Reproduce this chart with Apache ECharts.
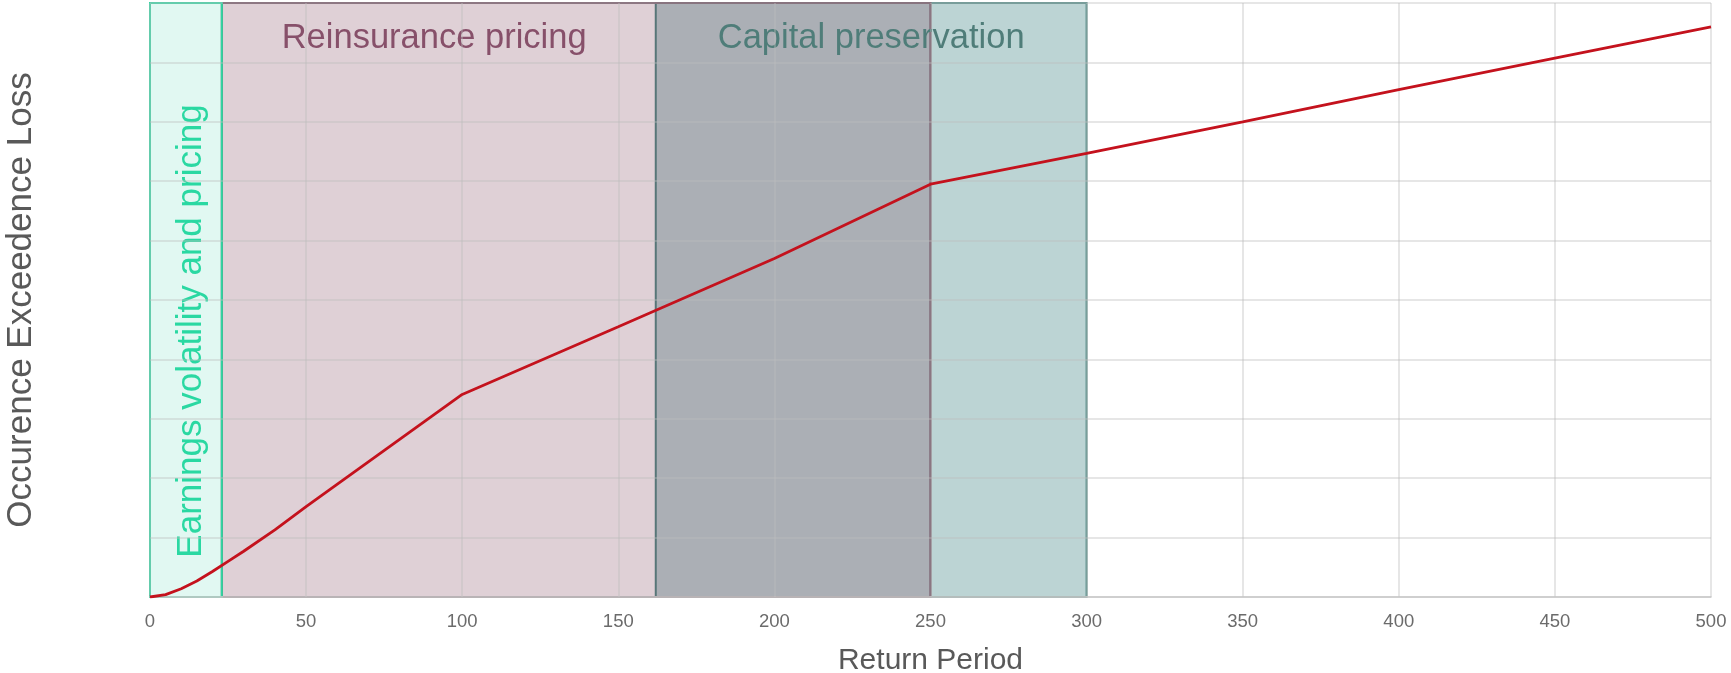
<!DOCTYPE html>
<html>
<head>
<meta charset="utf-8">
<script src="https://cdn.jsdelivr.net/npm/echarts@6/dist/echarts.min.js"></script>
<style>
  html, body { margin: 0; padding: 0; background: #ffffff; }
  #chart { width: 1731px; height: 673px; }
</style>
</head>
<body>
<div id="chart"></div>
<script>
// Occurrence exceedance loss curve by return period (years)
const returnPeriods = [0, 5, 10, 15, 20, 25, 30, 40, 50, 100, 150, 200, 250, 300, 350, 400, 450, 500];
const lossValues    = [0, 0.04, 0.14, 0.27, 0.43, 0.60, 0.77, 1.13, 1.52, 3.41, 4.55, 5.70, 6.95, 7.47, 8.00, 8.54, 9.07, 9.60];

// Risk-management bands along the return-period axis
const bandNames  = ['Earnings volatility and pricing', 'Reinsurance pricing', 'Capital preservation'];
const bandStarts = [0, 23, 162];
const bandEnds   = [23, 250, 300];

// Appearance of each band (kept apart from the values above)
const bandStyles = {
  'Earnings volatility and pricing': {
    fill: 'rgba(40, 205, 160, 0.14)', border: '#2fd6a2', text: '#2ad8a2',
    label: { position: 'inside', rotate: 90, offset: [-31, 5], fontSize: 35 }
  },
  'Reinsurance pricing': {
    fill: 'rgba(117, 52, 78, 0.23)', border: 'rgba(105, 70, 88, 0.95)', text: '#87506a',
    label: { position: 'insideTop', distance: 19, offset: [-142, 0], fontSize: 34.5 }
  },
  'Capital preservation': {
    fill: 'rgba(32, 112, 112, 0.30)', border: '#4f8a85', text: '#4f7d79',
    label: { position: 'insideTop', distance: 19, offset: [0, 0], fontSize: 34.5 }
  }
};

// Teal band first, mauve band over it, then the narrow mint band
const drawOrder = ['Capital preservation', 'Reinsurance pricing', 'Earnings volatility and pricing'];

const areaData = drawOrder.map(function (name) {
  const i = bandNames.indexOf(name);
  const st = bandStyles[name];
  return [
    {
      name: name,
      xAxis: bandStarts[i],
      itemStyle: { color: st.fill, borderColor: st.border, borderWidth: 2 },
      label: Object.assign({
        show: true,
        formatter: name,
        color: st.text,
        fontFamily: '"Liberation Sans", Arial, sans-serif'
      }, st.label)
    },
    { xAxis: bandEnds[i] }
  ];
});

const gridLine = { show: true, lineStyle: { color: 'rgba(190, 190, 190, 0.5)', width: 1.5 } };

const chart = echarts.init(document.getElementById('chart'), null, { renderer: 'canvas' });

chart.setOption({
  animation: false,
  backgroundColor: '#ffffff',
  grid: { left: 150, right: 20, top: 3, bottom: 76, containLabel: false, outerBoundsMode: 'none' },
  xAxis: {
    type: 'value',
    min: 0,
    max: 500,
    interval: 50,
    z: 2,
    name: 'Return Period',
    nameLocation: 'middle',
    nameGap: 49,
    nameTextStyle: { color: '#595959', fontSize: 30, fontFamily: '"Liberation Sans", Arial, sans-serif' },
    axisLine: { show: true, lineStyle: { color: '#c8c8c8', width: 1.5 } },
    axisTick: { show: false },
    axisLabel: { color: '#6b6b6b', fontSize: 18.5, margin: 15, fontFamily: '"Liberation Sans", Arial, sans-serif' },
    splitLine: gridLine
  },
  yAxis: {
    type: 'value',
    min: 0,
    max: 10,
    interval: 1,
    z: 2,
    name: 'Occurence Exceedence Loss',
    nameLocation: 'middle',
    nameGap: 111,
    nameTextStyle: { color: '#595959', fontSize: 35, fontFamily: '"Liberation Sans", Arial, sans-serif' },
    axisLine: { show: false },
    axisTick: { show: false },
    axisLabel: { show: false },
    splitLine: gridLine
  },
  series: [
    {
      type: 'line',
      name: 'Occurrence exceedance loss',
      z: 5,
      data: returnPeriods.map(function (rp, i) { return [rp, lossValues[i]]; }),
      showSymbol: false,
      symbol: 'none',
      smooth: false,
      lineStyle: { color: '#c4121d', width: 2.8 },
      markArea: {
        silent: true,
        z: 1,
        data: areaData
      }
    }
  ]
});
</script>
</body>
</html>
